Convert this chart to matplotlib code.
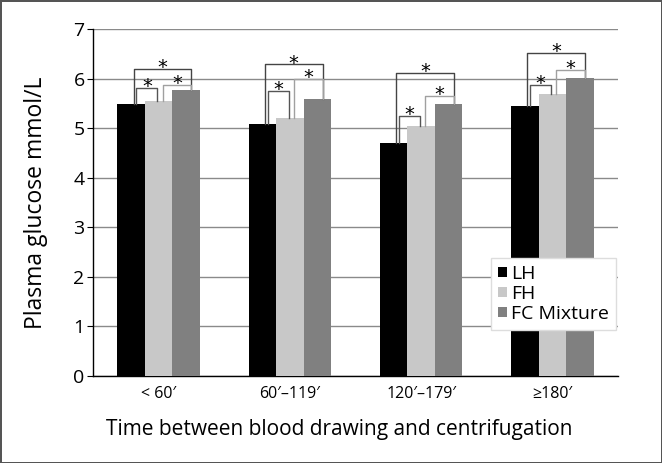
import numpy as np
import matplotlib
matplotlib.use('Agg')
import matplotlib.pyplot as plt

plt.rcParams['font.family'] = ['Open Sans', 'DejaVu Sans']

categories = ['< 60\u2032', '60\u2032\u2013119\u2032', '120\u2032\u2013179\u2032', '\u2265180\u2032']
series_names = ['LH', 'FH', 'FC Mixture']
lh = [5.48, 5.09, 4.71, 5.44]
fh = [5.54, 5.21, 5.05, 5.69]
fcm = [5.78, 5.60, 5.49, 6.01]
colors = ['#000000', '#c8c8c8', '#808080']

# significance bracket heights (LH-FH, FH-FCM, LH-FCM) per group
br_lh_fh = [5.81, 5.75, 5.25, 5.88]
br_fh_fcm = [5.88, 5.99, 5.65, 6.18]
br_lh_fcm = [6.20, 6.29, 6.12, 6.52]

fig = plt.figure(figsize=(6.62, 4.63), dpi=100, edgecolor='#555555', linewidth=2)
ax = fig.add_axes([0.1405, 0.188, 0.793, 0.749])

x = np.arange(len(categories))
w = 0.21
for i, (vals, c, name) in enumerate(zip([lh, fh, fcm], colors, series_names)):
    ax.bar(x + (i - 1) * w, vals, w, color=c, label=name, zorder=3)

def bracket(xl, xr, yl, yr, top, col):
    ax.plot([xl, xl, xr, xr], [yl, top, top, yr], color=col, lw=1, zorder=4)
    ax.annotate('*', xy=((xl + xr) / 2, top), xytext=(0, -3), textcoords='offset points',
                ha='center', va='baseline', fontsize=14, family='DejaVu Sans', zorder=4)

for g in range(len(categories)):
    bracket(g - 0.19, g + 0.25, lh[g], fcm[g], br_lh_fcm[g], '#444444')
    bracket(g - 0.17, g - 0.01, lh[g], fh[g], br_lh_fh[g], '#555555')
    bracket(g + 0.03, g + 0.25, fh[g], fcm[g], br_fh_fcm[g], '#a0a0a0')

ax.set_xlim(-0.5, 3.5)
ax.set_ylim(0, 7)
ax.set_yticks(range(8))
ax.yaxis.grid(True, color='#8a8a8a', lw=1, zorder=0)
ax.set_axisbelow(True)
ax.spines['top'].set_visible(False)
ax.spines['right'].set_visible(False)
ax.spines['left'].set_linewidth(1)
ax.spines['bottom'].set_linewidth(1)
ax.set_xticks(x)
ax.set_xticklabels(categories, fontsize=11.5)
ax.tick_params(axis='x', length=0, pad=7)
ax.tick_params(axis='y', labelsize=14, length=4, pad=2)
ax.set_ylabel('Plasma glucose mmol/L', fontsize=16.5)
ax.yaxis.set_label_coords(-0.085, 0.5)
ax.set_xlabel('Time between blood drawing and centrifugation', fontsize=15)
ax.xaxis.set_label_coords(0.469, -0.125)

leg = ax.legend(loc='lower right', bbox_to_anchor=(1.015, 0.105), fontsize=14,
                handlelength=0.45, handleheight=0.45, handletextpad=0.25,
                labelspacing=0.1, borderpad=0.35, fancybox=False, framealpha=1,
                edgecolor='#dddddd')
leg.set_zorder(5)

fig.savefig('out.png', dpi=100)
